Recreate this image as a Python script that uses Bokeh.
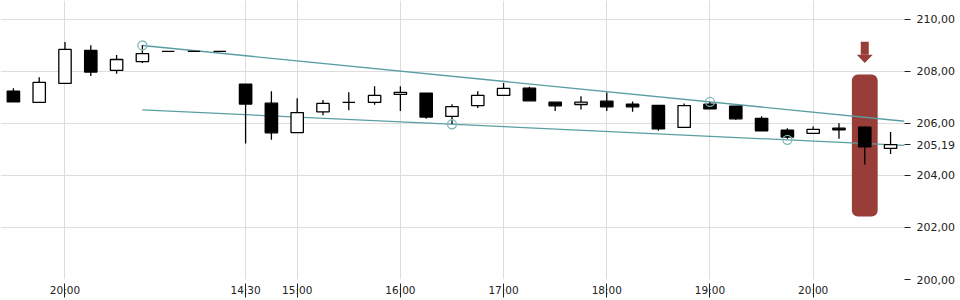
from bokeh.plotting import figure
from bokeh.models import Range1d, FixedTicker
from bokeh.embed import file_html
from bokeh.resources import INLINE

# ---- data (15-minute candles, index-based x axis) ----
opens  = [207.24, 206.81, 207.54, 208.81, 208.04, 208.38, 208.77, 208.77, 208.77,
          207.51, 206.78, 205.65, 206.45, 206.81, 206.81, 207.12, 207.17, 206.27,
          206.69, 207.08, 207.36, 206.82, 206.73, 206.86, 206.74, 206.70, 205.85,
          206.74, 206.67, 206.20, 205.74, 205.62, 205.82, 205.86, 205.04]
highs  = [207.36, 207.78, 209.13, 209.01, 208.63, 209.01, 208.77, 208.77, 208.77,
          207.51, 207.24, 206.97, 206.90, 207.20, 207.43, 207.43, 207.17, 206.74,
          207.24, 207.56, 207.41, 206.82, 207.05, 207.19, 206.85, 206.70, 206.77,
          206.82, 206.67, 206.28, 205.82, 205.88, 206.01, 205.88, 205.67]
lows   = [206.83, 206.81, 207.54, 207.83, 207.91, 208.33, 208.77, 208.77, 208.77,
          205.23, 205.37, 205.65, 206.32, 206.51, 206.72, 206.48, 206.18, 205.98,
          206.60, 207.08, 206.87, 206.48, 206.54, 206.48, 206.45, 205.72, 205.85,
          206.56, 206.14, 205.72, 205.41, 205.62, 205.41, 204.42, 204.83]
closes = [206.83, 207.58, 208.85, 207.98, 208.46, 208.69, 208.77, 208.77, 208.77,
          206.75, 205.64, 206.42, 206.77, 206.81, 207.08, 207.20, 206.25, 206.65,
          207.08, 207.35, 206.87, 206.68, 206.82, 206.64, 206.64, 205.79, 206.69,
          206.56, 206.18, 205.72, 205.48, 205.77, 205.76, 205.10, 205.19]

x_tick_idx    = [2, 9, 11, 15, 19, 23, 27, 31]
x_tick_labels = ["20:00", "14:30", "15:00", "16:00", "17:00", "18:00", "19:00", "20:00"]
y_ticks = [200, 202, 204, 206, 208, 210]

# trend channel: touch points (candle index, price)
upper_idx, upper_val = [5, 27], [209.00, 206.83]
lower_idx, lower_val = [17, 30], [205.97, 205.37]
channel_start = 5
highlight_idx = 33

# ---- figure ----
n = len(opens)
idx = list(range(n))
X0, X1 = -0.5, 34.54
Y0, Y1 = 200.0, 210.73

p = figure(width=960, height=300, output_backend="svg", toolbar_location=None,
           x_range=Range1d(X0, X1), y_range=Range1d(Y0, Y1),
           y_axis_location="right",
           min_border_left=0, min_border_top=0, min_border_right=56, min_border_bottom=21)
p.outline_line_color = None
p.background_fill_color = "white"
p.border_fill_color = "white"

GRID = "#dddddd"
p.xgrid.ticker = FixedTicker(ticks=x_tick_idx)
p.ygrid.ticker = FixedTicker(ticks=y_ticks)
p.grid.grid_line_color = GRID
p.grid.grid_line_width = 1

# x axis
xa = p.xaxis[0]
xa.ticker = FixedTicker(ticks=x_tick_idx)
xa.major_label_overrides = {i: l for i, l in zip(x_tick_idx, x_tick_labels)}
xa.axis_line_color = None
xa.major_tick_in = -4
xa.major_tick_out = 18
xa.minor_tick_out = 0
xa.minor_tick_in = 0
xa.major_tick_line_color = "#222222"
xa.major_label_standoff = -14
xa.major_label_text_font = "DejaVu Sans"
xa.major_label_text_font_size = "10.5px"
xa.major_label_text_color = "#222222"

# y axis (right) – grid ticks plus the last price
last = closes[-1]
axis_ticks = y_ticks + [last]
ya = p.yaxis[0]
ya.ticker = FixedTicker(ticks=axis_ticks)
ya.major_label_overrides = {v: f"{v:.2f}".replace(".", ",") for v in axis_ticks}
ya.axis_line_color = None
ya.major_tick_in = 0
ya.major_tick_out = 6
ya.minor_tick_in = 0
ya.minor_tick_out = 0
ya.major_tick_line_color = "#222222"
ya.major_label_standoff = 6
ya.major_label_text_font = "DejaVu Sans"
ya.major_label_text_font_size = "11px"
ya.major_label_text_color = "#222222"

# highlight box around the selected candle
RED = "#983d37"
pad = 2.0
h_top = highs[highlight_idx] + pad
h_bot = lows[highlight_idx] - pad
p.quad(left=[highlight_idx - 0.5], right=[highlight_idx + 0.5], top=[h_top], bottom=[h_bot],
       fill_color=RED, line_color=None, border_radius=6)
# arrow pointing down at the box
tip = h_top + 0.45
head = h_top + 0.76
shaft_top = h_top + 1.26
p.quad(left=[highlight_idx - 0.155], right=[highlight_idx + 0.155], top=[shaft_top], bottom=[head],
       fill_color=RED, line_color=None)
p.patch(x=[highlight_idx - 0.31, highlight_idx + 0.31, highlight_idx], y=[head, head, tip],
        fill_color=RED, line_color=None)

# trend channel lines
TEAL = "#5a9ea3"
def line_through(ix, iv):
    slope = (iv[1] - iv[0]) / (ix[1] - ix[0])
    xs = [channel_start, X1]
    ys = [iv[0] + slope * (x - ix[0]) for x in xs]
    return xs, ys

ux, uy = line_through(upper_idx, upper_val)
lx, ly = line_through(lower_idx, lower_val)
p.line(ux, uy, line_color=TEAL, line_width=1.3)
p.line(lx, ly, line_color=TEAL, line_width=1.3)

# candles
body_top = [max(o, c) for o, c in zip(opens, closes)]
body_bot = [min(o, c) for o, c in zip(opens, closes)]
fills = ["white" if c >= o else "black" for o, c in zip(opens, closes)]
p.segment(x0=idx, y0=lows, x1=idx, y1=highs, line_color="black", line_width=1.3)
p.vbar(x=idx, width=0.48, top=body_top, bottom=body_bot,
       fill_color=fills, line_color="black", line_width=1.3)

# touch-point circles
p.scatter(upper_idx + lower_idx, upper_val + lower_val, marker="circle", size=9,
          fill_color=None, line_color="#80b8bd", line_width=1.3)

open("out.html", "w").write(file_html(p, INLINE))
